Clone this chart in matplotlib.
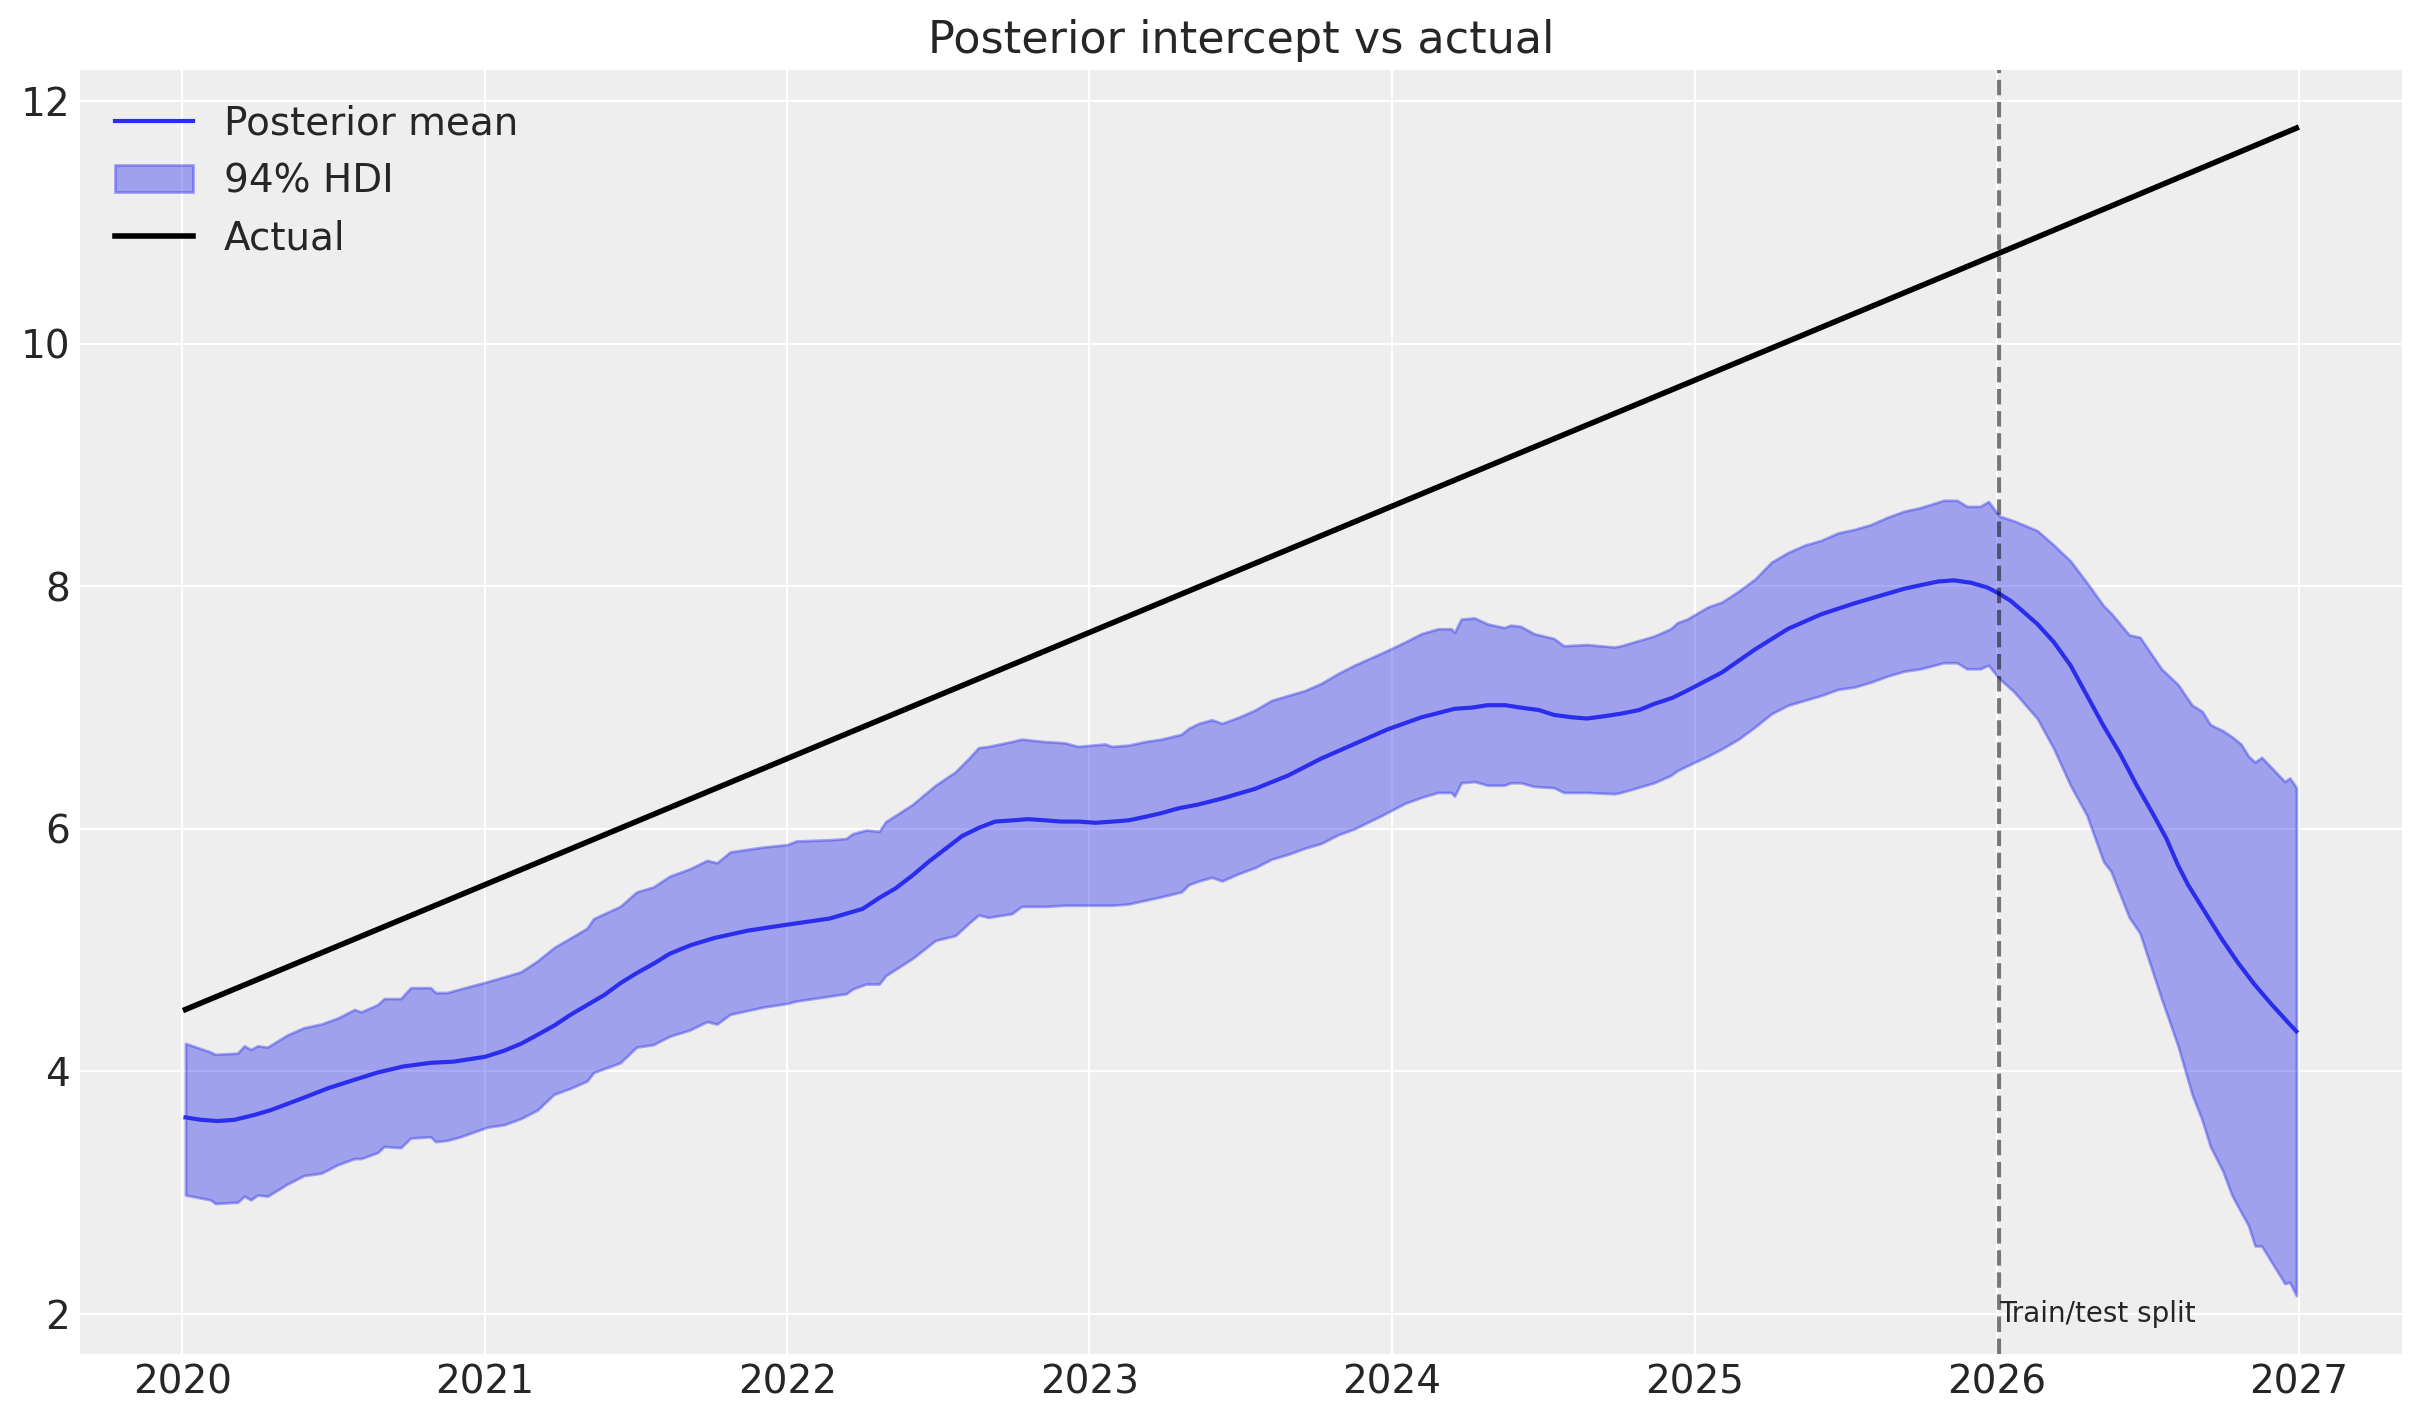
import pandas as pd
import matplotlib
matplotlib.use("Agg")
import matplotlib.pyplot as plt
import matplotlib.dates as mdates

# arviz-darkgrid look, set by hand
plt.rcParams.update({
    "axes.facecolor": "#eeeeee",
    "axes.edgecolor": "white",
    "axes.grid": True,
    "axes.axisbelow": True,
    "axes.linewidth": 0,
    "axes.titlesize": 16,
    "axes.labelsize": 15,
    "grid.color": "white",
    "grid.linestyle": "-",
    "text.color": "#262626",
    "xtick.color": "#262626",
    "ytick.color": "#262626",
    "xtick.major.size": 0,
    "ytick.major.size": 0,
    "xtick.labelsize": 14,
    "ytick.labelsize": 14,
    "legend.fontsize": 14,
    "legend.frameon": False,
    "lines.solid_joinstyle": "round",
})

# ---- data ----
band_dates = [
    "2020-01-05", "2020-02-04", "2020-02-10", "2020-03-08", "2020-03-16", "2020-03-24",
    "2020-04-01", "2020-04-13", "2020-05-07", "2020-05-27", "2020-06-17", "2020-07-07",
    "2020-07-27", "2020-08-04", "2020-08-24", "2020-09-01", "2020-09-21", "2020-10-03",
    "2020-10-27", "2020-11-02", "2020-11-16", "2020-12-02", "2021-01-04", "2021-01-24",
    "2021-02-13", "2021-03-05", "2021-03-25", "2021-04-14", "2021-05-04", "2021-05-12",
    "2021-06-13", "2021-07-03", "2021-07-23", "2021-08-12", "2021-09-05", "2021-09-26",
    "2021-10-08", "2021-10-24", "2021-11-13", "2021-12-03", "2022-01-01", "2022-01-12",
    "2022-02-21", "2022-03-13", "2022-03-21", "2022-04-06", "2022-04-22", "2022-04-30",
    "2022-06-01", "2022-06-29", "2022-07-23", "2022-08-08", "2022-08-20", "2022-09-01",
    "2022-09-29", "2022-10-11", "2022-11-08", "2022-12-02", "2022-12-18", "2023-01-20",
    "2023-01-28", "2023-02-17", "2023-03-09", "2023-03-29", "2023-04-22", "2023-05-01",
    "2023-05-13", "2023-05-29", "2023-06-10", "2023-06-30", "2023-07-20", "2023-08-09",
    "2023-08-29", "2023-09-18", "2023-10-08", "2023-10-28", "2023-11-17", "2023-12-20",
    "2024-01-17", "2024-02-06", "2024-02-26", "2024-03-13", "2024-03-17", "2024-03-25",
    "2024-04-10", "2024-04-26", "2024-05-16", "2024-05-24", "2024-06-05", "2024-06-21",
    "2024-07-15", "2024-07-27", "2024-08-24", "2024-09-26", "2024-10-04", "2024-10-24",
    "2024-11-13", "2024-12-03", "2024-12-11", "2024-12-23", "2025-01-17", "2025-02-03",
    "2025-02-23", "2025-03-15", "2025-04-04", "2025-04-24", "2025-05-14", "2025-06-03",
    "2025-06-23", "2025-07-13", "2025-08-02", "2025-08-22", "2025-09-11", "2025-10-01",
    "2025-10-29", "2025-11-14", "2025-11-26", "2025-12-12", "2025-12-22", "2026-01-04",
    "2026-01-22", "2026-02-19", "2026-03-11", "2026-03-31", "2026-04-20", "2026-05-10",
    "2026-05-19", "2026-06-10", "2026-06-23", "2026-07-19", "2026-08-08", "2026-08-25",
    "2026-09-06", "2026-09-16", "2026-10-01", "2026-10-12", "2026-10-23", "2026-11-01",
    "2026-11-09", "2026-11-17", "2026-12-15", "2026-12-21", "2026-12-29",
]
hdi_upper = [
    4.23, 4.16, 4.14, 4.15, 4.21, 4.18, 4.21, 4.20, 4.30, 4.36, 4.39, 4.44,
    4.51, 4.49, 4.55, 4.60, 4.60, 4.69, 4.69, 4.65, 4.65, 4.68, 4.74, 4.78,
    4.82, 4.91, 5.02, 5.10, 5.18, 5.26, 5.36, 5.48, 5.52, 5.61, 5.67, 5.74,
    5.72, 5.81, 5.83, 5.85, 5.87, 5.90, 5.91, 5.92, 5.96, 5.99, 5.98, 6.06,
    6.20, 6.36, 6.47, 6.58, 6.67, 6.68, 6.72, 6.74, 6.72, 6.71, 6.68, 6.70,
    6.68, 6.69, 6.72, 6.74, 6.78, 6.83, 6.87, 6.90, 6.87, 6.92, 6.98, 7.06,
    7.10, 7.14, 7.20, 7.28, 7.35, 7.45, 7.54, 7.61, 7.65, 7.65, 7.62, 7.73,
    7.74, 7.69, 7.66, 7.68, 7.67, 7.61, 7.57, 7.51, 7.52, 7.50, 7.51, 7.55,
    7.59, 7.65, 7.70, 7.73, 7.83, 7.87, 7.96, 8.06, 8.20, 8.28, 8.34, 8.38,
    8.44, 8.47, 8.51, 8.57, 8.62, 8.65, 8.71, 8.71, 8.66, 8.66, 8.70, 8.58,
    8.54, 8.46, 8.34, 8.21, 8.03, 7.84, 7.78, 7.60, 7.58, 7.32, 7.19, 7.02,
    6.97, 6.86, 6.81, 6.76, 6.70, 6.60, 6.55, 6.59, 6.39, 6.42, 6.34,
]
hdi_lower = [
    2.98, 2.94, 2.91, 2.92, 2.97, 2.94, 2.98, 2.97, 3.07, 3.14, 3.16, 3.23,
    3.28, 3.28, 3.33, 3.38, 3.37, 3.45, 3.46, 3.42, 3.43, 3.46, 3.54, 3.56,
    3.61, 3.68, 3.81, 3.86, 3.92, 3.99, 4.07, 4.20, 4.22, 4.29, 4.34, 4.41,
    4.39, 4.47, 4.50, 4.53, 4.56, 4.58, 4.62, 4.64, 4.68, 4.72, 4.72, 4.79,
    4.93, 5.08, 5.12, 5.22, 5.29, 5.27, 5.30, 5.36, 5.36, 5.37, 5.37, 5.37,
    5.37, 5.38, 5.41, 5.44, 5.48, 5.54, 5.57, 5.60, 5.57, 5.63, 5.68, 5.75,
    5.79, 5.84, 5.88, 5.95, 6.00, 6.11, 6.21, 6.26, 6.30, 6.30, 6.27, 6.38,
    6.39, 6.36, 6.36, 6.38, 6.38, 6.35, 6.34, 6.30, 6.30, 6.29, 6.30, 6.34,
    6.38, 6.44, 6.48, 6.52, 6.60, 6.66, 6.74, 6.84, 6.95, 7.02, 7.06, 7.10,
    7.15, 7.17, 7.21, 7.26, 7.30, 7.32, 7.37, 7.37, 7.32, 7.32, 7.35, 7.24,
    7.13, 6.91, 6.66, 6.36, 6.11, 5.73, 5.65, 5.27, 5.14, 4.60, 4.21, 3.81,
    3.60, 3.38, 3.18, 2.98, 2.84, 2.73, 2.56, 2.56, 2.25, 2.26, 2.15,
]

mean_dates = [
    "2020-01-05", "2020-01-24", "2020-02-13", "2020-03-04", "2020-03-28", "2020-04-17",
    "2020-05-26", "2020-06-25", "2020-07-27", "2020-08-24", "2020-09-24", "2020-10-27",
    "2020-11-24", "2021-01-01", "2021-01-24", "2021-02-14", "2021-03-05", "2021-03-26",
    "2021-04-15", "2021-05-05", "2021-05-25", "2021-06-14", "2021-07-03", "2021-07-24",
    "2021-08-12", "2021-09-06", "2021-10-05", "2021-11-14", "2022-01-01", "2022-02-21",
    "2022-04-02", "2022-04-22", "2022-05-12", "2022-06-02", "2022-06-21", "2022-07-12",
    "2022-07-31", "2022-08-21", "2022-09-09", "2022-09-30", "2022-10-19", "2022-11-09",
    "2022-11-28", "2022-12-19", "2023-01-08", "2023-01-29", "2023-02-17", "2023-03-10",
    "2023-03-29", "2023-04-19", "2023-05-12", "2023-06-10", "2023-07-20", "2023-08-29",
    "2023-10-08", "2023-11-17", "2023-12-27", "2024-02-06", "2024-03-17", "2024-04-07",
    "2024-04-26", "2024-05-17", "2024-06-05", "2024-06-27", "2024-07-15", "2024-08-06",
    "2024-08-24", "2024-09-15", "2024-10-04", "2024-10-26", "2024-11-13", "2024-12-05",
    "2024-12-23", "2025-02-03", "2025-03-15", "2025-04-24", "2025-06-03", "2025-07-13",
    "2025-08-22", "2025-09-11", "2025-10-01", "2025-10-22", "2025-11-10", "2025-12-01",
    "2025-12-21", "2026-01-04", "2026-01-18", "2026-01-30", "2026-02-19", "2026-03-11",
    "2026-03-31", "2026-04-20", "2026-05-10", "2026-05-30", "2026-06-19", "2026-07-09",
    "2026-07-25", "2026-08-08", "2026-08-20", "2026-09-09", "2026-09-29", "2026-10-19",
    "2026-11-08", "2026-11-28", "2026-12-18", "2026-12-29",
]
posterior_mean = [
    3.62, 3.60, 3.59, 3.60, 3.64, 3.68,
    3.78, 3.86, 3.93, 3.99, 4.04, 4.07,
    4.08, 4.12, 4.17, 4.23, 4.30, 4.38,
    4.47, 4.55, 4.63, 4.73, 4.81, 4.89,
    4.97, 5.04, 5.10, 5.16, 5.21, 5.26,
    5.34, 5.43, 5.51, 5.62, 5.73, 5.84,
    5.94, 6.01, 6.06, 6.07, 6.08, 6.07,
    6.06, 6.06, 6.05, 6.06, 6.07, 6.10,
    6.13, 6.17, 6.20, 6.25, 6.33, 6.44,
    6.58, 6.70, 6.82, 6.92, 6.99, 7.00,
    7.02, 7.02, 7.00, 6.98, 6.94, 6.92,
    6.91, 6.93, 6.95, 6.98, 7.03, 7.08,
    7.14, 7.29, 7.48, 7.65, 7.77, 7.86,
    7.94, 7.98, 8.01, 8.04, 8.05, 8.03,
    7.99, 7.94, 7.88, 7.81, 7.69, 7.54,
    7.35, 7.10, 6.85, 6.62, 6.36, 6.12,
    5.92, 5.70, 5.54, 5.32, 5.10, 4.90,
    4.72, 4.56, 4.41, 4.33,
]

actual_dates = ["2020-01-05", "2021-01-01", "2022-01-01", "2023-01-01",
                "2024-01-01", "2025-01-01", "2026-01-01", "2026-12-29"]
actual = [4.51, 5.54, 6.58, 7.62, 8.66, 9.70, 10.74, 11.78]

split_date = pd.Timestamp("2026-01-04")

band_x = pd.to_datetime(band_dates)
mean_x = pd.to_datetime(mean_dates)
actual_x = pd.to_datetime(actual_dates)

fig, ax = plt.subplots(figsize=(2423 / 200, 1423 / 200), dpi=200)
fig.subplots_adjust(left=0.033, right=0.9913, bottom=0.0485, top=0.951)

ax.plot(mean_x, posterior_mean, color="#2a2eec", linewidth=1.5, label="Posterior mean")
ax.fill_between(band_x, hdi_lower, hdi_upper, color="#2a2eec", alpha=0.4, label="94% HDI")
ax.plot(actual_x, actual, color="black", linewidth=2, label="Actual")

ax.axvline(split_date, color="black", alpha=0.5, linestyle="--", linewidth=1.5)
ax.text(split_date, 2.0, "Train/test split", ha="left", va="center", fontsize=10)

ax.xaxis.set_major_locator(mdates.YearLocator())
ax.xaxis.set_major_formatter(mdates.DateFormatter("%Y"))

ax.set_title("Posterior intercept vs actual")
ax.legend(loc="upper left")

fig.savefig("out.png", dpi=200)
